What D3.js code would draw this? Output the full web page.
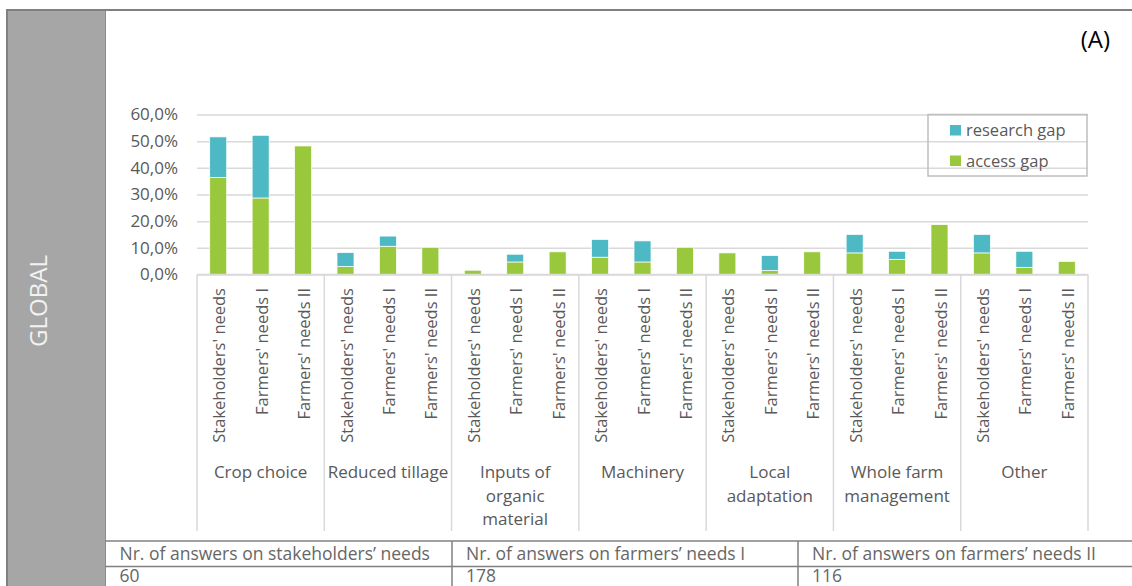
<!DOCTYPE html>
<html>
<head>
<meta charset="utf-8">
<script src="https://cdn.jsdelivr.net/npm/d3@7"></script>
<style>
  html, body { margin: 0; padding: 0; background: #fff; }
  svg { display: block; }
  text { font-family: "Open Sans", sans-serif; }
</style>
</head>
<body>
<svg id="chart" width="1132" height="586"></svg>
<script>
// ---- data ----
const categories = ["Crop choice", "Reduced tillage", "Inputs of organic material", "Machinery", "Local adaptation", "Whole farm management", "Other"];
const categoryLines = [["Crop choice"], ["Reduced tillage"], ["Inputs of", "organic", "material"], ["Machinery"], ["Local", "adaptation"], ["Whole farm", "management"], ["Other"]];
const respondents = ["Stakeholders' needs", "Farmers' needs I", "Farmers' needs II"];
// values in %, one row per category, columns follow respondents
const accessGap = [
  [36.4, 28.7, 48.2],
  [3.0, 10.6, 10.2],
  [1.6, 4.7, 8.5],
  [6.5, 4.7, 10.2],
  [8.1, 1.5, 8.5],
  [8.1, 5.7, 18.7],
  [8.1, 2.7, 4.9]
];
const researchGap = [
  [15.2, 23.5, 0],
  [5.2, 3.8, 0],
  [0, 2.9, 0],
  [6.6, 7.9, 0],
  [0, 5.6, 0],
  [6.9, 3.0, 0],
  [6.9, 6.0, 0]
];
const seriesNames = ["access gap", "research gap"];
const yTicks = [0, 10, 20, 30, 40, 50, 60];
const tableHeaders = ["Nr. of answers on stakeholders\u2019 needs", "Nr. of answers on farmers\u2019 needs I", "Nr. of answers on farmers\u2019 needs II"];
const tableValues = ["60", "178", "116"];
const panelLabel = "GLOBAL";
const cornerLabel = "(A)";

// ---- build ----
const svg = d3.select("#chart");
const colors = { "access gap": "#9ac83d", "research gap": "#4cb9c5" };
const textGray = "#595959";
const gridGray = "#d9d9d9";
const frameGray = "#808080";

// frame & side panel
svg.append("rect").attr("x", 7).attr("y", 10).attr("width", 98.5).attr("height", 576).attr("fill", "#a6a6a6");
svg.append("line").attr("x1", 7).attr("x2", 7).attr("y1", 10).attr("y2", 586).attr("stroke", frameGray).attr("stroke-width", 2);
svg.append("line").attr("x1", 105.5).attr("x2", 105.5).attr("y1", 10).attr("y2", 586).attr("stroke", "#8c8c8c").attr("stroke-width", 1);
svg.append("line").attr("x1", 6).attr("x2", 1132).attr("y1", 10).attr("y2", 10).attr("stroke", frameGray).attr("stroke-width", 2);
svg.append("text").attr("transform", "translate(47,301) rotate(-90)")
  .attr("text-anchor", "middle").attr("fill", "#f2f2f2").attr("font-size", 24).text(panelLabel);
svg.append("text").attr("x", 1110).attr("y", 48).attr("text-anchor", "end")
  .attr("fill", "#000").attr("font-size", 24).text(cornerLabel);

// scales
const x0 = d3.scaleBand().domain(categories).range([197, 1088]).padding(0);
const x1 = d3.scaleBand().domain(respondents).range([0, x0.bandwidth()]).paddingInner(0.6).paddingOuter(0.3);
const y = d3.scaleLinear().domain([0, 60]).range([274.5, 114.5]);

// y axis with grid
const yAxis = d3.axisLeft(y).tickValues(yTicks)
  .tickFormat(d => d.toFixed(1).replace(".", ",") + "%")
  .tickSize(-(1088 - 197)).tickPadding(19);
const gy = svg.append("g").attr("transform", "translate(197,0)").call(yAxis);
gy.select(".domain").remove();
gy.selectAll(".tick line").attr("stroke", gridGray).attr("stroke-width", 1.5);
gy.selectAll(".tick text").attr("fill", textGray).attr("font-size", 17).attr("font-family", "Open Sans, sans-serif");

// legend (gridlines show through, as in the reference)
const lg = svg.append("g");
lg.append("rect").attr("x", 928).attr("y", 114.5).attr("width", 159).attr("height", 61.5)
  .attr("fill", "none").attr("stroke", "#bfbfbf").attr("stroke-width", 1.5);
const legendItems = ["research gap", "access gap"];
legendItems.forEach((name, i) => {
  const yy = 125 + i * 30.5;
  lg.append("rect").attr("x", 950).attr("y", yy).attr("width", 11).attr("height", 10.5).attr("fill", colors[name]);
  lg.append("text").attr("x", 966).attr("y", yy + 11).attr("fill", textGray).attr("font-size", 16.5).text(name);
});

// stacked data
const rows = [];
categories.forEach((c, ci) => {
  respondents.forEach((r, ri) => {
    rows.push({ category: c, respondent: r, "access gap": accessGap[ci][ri], "research gap": researchGap[ci][ri] });
  });
});
const stacked = d3.stack().keys(seriesNames)(rows);

const barsG = svg.append("g");
stacked.forEach(layer => {
  barsG.append("g").attr("fill", colors[layer.key])
    .selectAll("rect").data(layer.filter(d => d[1] - d[0] > 0)).join("rect")
    .attr("x", d => x0(d.data.category) + x1(d.data.respondent))
    .attr("width", x1.bandwidth())
    .attr("y", d => y(d[1]))
    .attr("height", d => y(d[0]) - y(d[1]))
    .attr("stroke", "#ffffff").attr("stroke-width", 0.7);
});

// category axis line
svg.append("line").attr("x1", 197).attr("x2", 1088).attr("y1", y(0)).attr("y2", y(0))
  .attr("stroke", gridGray).attr("stroke-width", 1.5);

// group dividers
const bounds = categories.map(c => x0(c)).concat([x0.range()[1]]);
svg.append("g").selectAll("line").data(bounds).join("line")
  .attr("x1", d => d).attr("x2", d => d).attr("y1", y(0)).attr("y2", 531)
  .attr("stroke", gridGray).attr("stroke-width", 1.5);

// rotated respondent labels
const lblG = svg.append("g");
categories.forEach(c => {
  respondents.forEach(r => {
    const cx = x0(c) + x1(r) + x1.bandwidth() / 2;
    lblG.append("text").attr("transform", `translate(${cx + 7},288) rotate(-90)`)
      .attr("text-anchor", "end").attr("fill", textGray).attr("font-size", 16.5).text(r);
  });
});

// group labels
categories.forEach((c, ci) => {
  const cx = x0(c) + x0.bandwidth() / 2;
  const t = svg.append("text").attr("text-anchor", "middle").attr("fill", textGray).attr("font-size", 17);
  categoryLines[ci].forEach((ln, li) => {
    t.append("tspan").attr("x", cx).attr("y", 478 + li * 23.5).text(ln);
  });
});

// bottom table
const tbl = svg.append("g");
const colX = [105.5, 452, 798];
tbl.append("line").attr("x1", 105).attr("x2", 1132).attr("y1", 541).attr("y2", 541).attr("stroke", frameGray).attr("stroke-width", 1.5);
tbl.append("line").attr("x1", 105).attr("x2", 1132).attr("y1", 566.5).attr("y2", 566.5).attr("stroke", frameGray).attr("stroke-width", 1.5);
[452, 798].forEach(xv => {
  tbl.append("line").attr("x1", xv).attr("x2", xv).attr("y1", 541).attr("y2", 586).attr("stroke", frameGray).attr("stroke-width", 1.5);
});
tableHeaders.forEach((h, i) => {
  tbl.append("text").attr("x", colX[i] + 14).attr("y", 560).attr("fill", "#666").attr("font-size", 17.5).text(h);
  tbl.append("text").attr("x", colX[i] + 14).attr("y", 582).attr("fill", "#666").attr("font-size", 17.5).text(tableValues[i]);
});
</script>
</body>
</html>
